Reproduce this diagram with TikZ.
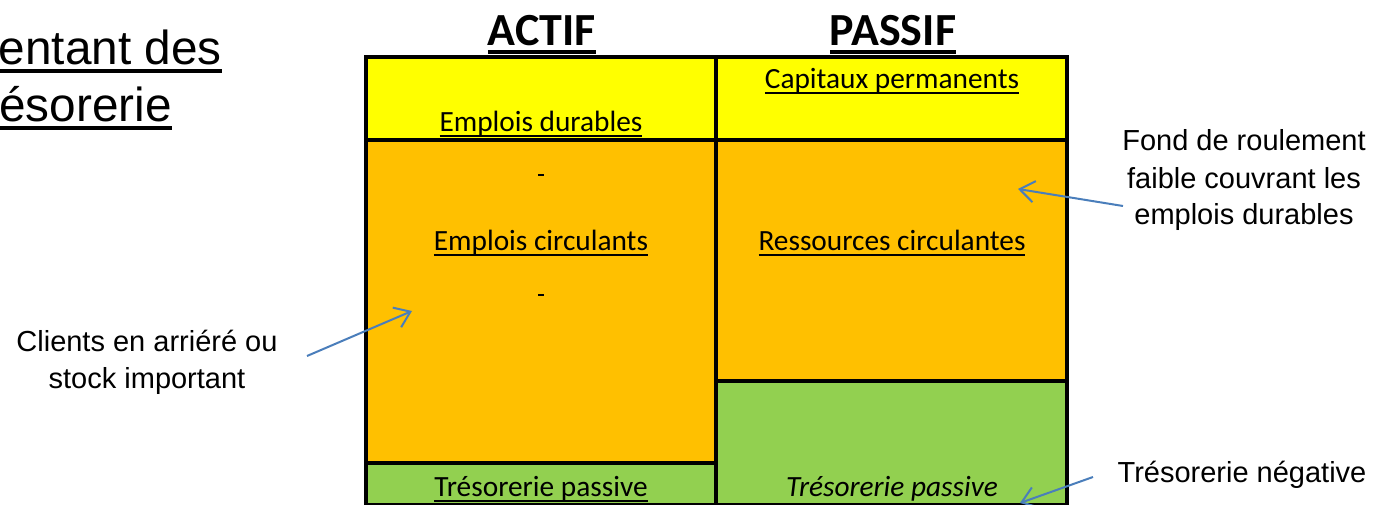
\documentclass[tikz,border=0pt]{standalone}
\usepackage{fontspec}
\setmainfont{Liberation Sans}
\newfontfamily\calibri{Carlito}
\usetikzlibrary{arrows.meta}
\definecolor{cyel}{HTML}{FFFF00}
\definecolor{corg}{HTML}{FFC000}
\definecolor{cgrn}{HTML}{92D050}
\definecolor{carr}{HTML}{4A7EBB}
\newsavebox\myulbox
\newcommand\myuline[3]{\sbox\myulbox{#3}\rlap{\rule[-#1]{\wd\myulbox}{#2}}\usebox\myulbox}
\begin{document}
\begin{tikzpicture}[x=0.75pt,y=-0.75pt,
  cell/.style={fill=#1,draw=black,line width=2.4pt},
  celltxt/.style={font=\calibri\fontsize{22}{26}\selectfont,anchor=base,inner sep=0},
  hdr/.style={font=\calibri\bfseries\fontsize{34.5}{40}\selectfont,anchor=base,inner sep=0},
  note/.style={font=\fontsize{21.75}{26}\selectfont,anchor=base,inner sep=0},
  ttl/.style={font=\fontsize{35.8}{42}\selectfont,inner sep=0},
  arr/.style={draw=carr,line width=1.5pt,-{Straight Barb[length=11pt,width=16pt]}}]
\useasboundingbox (0,0) rectangle (1374,505);
% table cells
\draw[cell=cyel] (366,57) rectangle (716,140);
\draw[cell=corg] (366,140) rectangle (716,463);
\draw[cell=cgrn] (366,463) rectangle (716,504.5);
\draw[cell=cyel] (716,57) rectangle (1067,140);
\draw[cell=corg] (716,140) rectangle (1067,381);
\draw[cell=cgrn] (716,381) rectangle (1067,504.5);
% headers
\node[hdr] (actif) at (542,46) {\myuline{6pt}{3pt}{ACTIF}};
\node[hdr] (passif) at (893,46) {\myuline{6pt}{3pt}{PASSIF}};
% cell texts
\node[celltxt] (capp) at (892,89) {\myuline{3.8pt}{1.2pt}{Capitaux permanents}};
\node[celltxt] (empd) at (541,132) {\myuline{3.8pt}{1.2pt}{Emplois durables}};
\node[inner sep=0] (dash1) at (541,175) {\rule{4.5pt}{1.4pt}};
\node[celltxt] (empc) at (541,251) {\myuline{3.8pt}{1.2pt}{Emplois circulants}};
\node[celltxt] (resc) at (892,251) {\myuline{3.8pt}{1.2pt}{Ressources circulantes}};
\node[inner sep=0] (dash2) at (541,295) {\rule{4.5pt}{1.4pt}};
\node[celltxt] (tresl) at (541,497) {\myuline{3.8pt}{1.2pt}{Trésorerie passive}};
\node[celltxt] (tresr) at (892,497) {\itshape Trésorerie passive};
% title fragment
\node[ttl,anchor=base east] (t1) at (222,65) {\myuline{6.2pt}{3pt}{entant des}};
\node[ttl,anchor=base west] (t2) at (-1,122) {\myuline{6.2pt}{3pt}{ésorerie}};
% notes
\node[note] (n1a) at (1244,151) {Fond de roulement};
\node[note] (n1b) at (1244,189) {faible couvrant les};
\node[note] (n1c) at (1244,225) {emplois durables};
\node[note] (n2a) at (147,352) {Clients en arriéré ou};
\node[note] (n2b) at (147,389) {stock important};
\node[note] (n3) at (1242,483) {Trésorerie négative};
% arrow ends
\coordinate (a1s) at (307,356);
\coordinate (a1e) at (412,311);
\coordinate (a2s) at (1123,206);
\coordinate (a2e) at (1018,189);
\coordinate (a3s) at (1093,477);
\coordinate (a3e) at (1020,503);
\draw[arr] (a1s) -- (a1e);
\draw[arr] (a2s) -- (a2e);
\draw[arr] (a3s) -- (a3e);
\end{tikzpicture}
\end{document}
